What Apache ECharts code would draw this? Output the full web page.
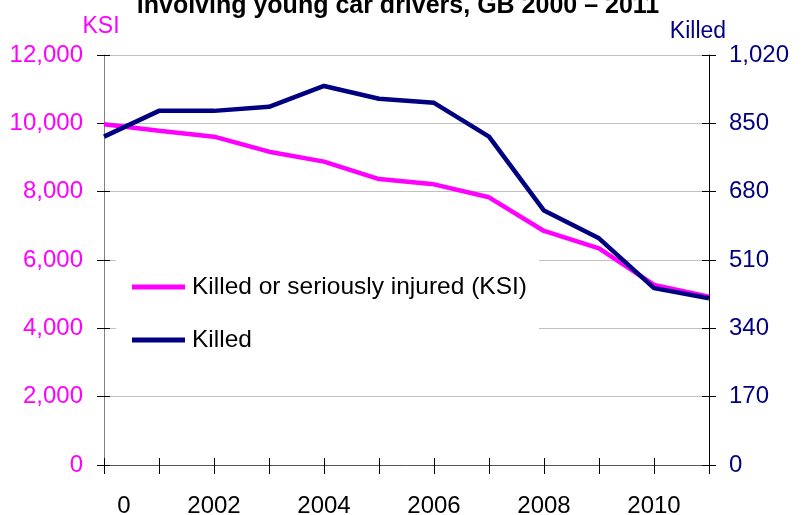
<!DOCTYPE html>
<html>
<head>
<meta charset="utf-8">
<script src="https://cdn.jsdelivr.net/npm/echarts@6/dist/echarts.min.js"></script>
<style>
    html, body { margin: 0; padding: 0; background: #fff; }
    #main { width: 803px; height: 515px; }
</style>
</head>
<body>
<div id="main"></div>
<script>
// data
var years = ['2000','2001','2002','2003','2004','2005','2006','2007','2008','2009','2010','2011'];
var ksi = [9970, 9785, 9610, 9170, 8880, 8370, 8215, 7835, 6850, 6340, 5270, 4925];
var killed = [817, 881, 881, 891, 943, 911, 901, 817, 633, 564, 440, 415];
var ksiTicks = [0, 2000, 4000, 6000, 8000, 10000, 12000];
var killedTicks = [0, 170, 340, 510, 680, 850, 1020];

var FONT = '"Liberation Sans", Arial, sans-serif';
var PINK = '#ff00ff';
var NAVY = '#000080';

function fmt(v) {
    return String(v).replace(/\B(?=(\d{3})+(?!\d))/g, ',');
}

var myChart = echarts.init(document.getElementById('main'));
option = {
    animation: false,
    backgroundColor: '#fff',
    title: {
        text: 'involving young car drivers, GB 2000 \u2013 2011',
        left: 393,
        textAlign: 'center',
        top: -11,
        textStyle: { fontFamily: FONT, fontSize: 25, fontWeight: 'bold', color: '#000' }
    },
    legend: {
        orient: 'vertical',
        left: 116,
        top: 260,
        padding: [14, 12, 8, 16],
        backgroundColor: '#fff',
        icon: 'rect',
        itemWidth: 53,
        itemHeight: 5,
        itemGap: 27,
        textStyle: { fontFamily: FONT, fontSize: 24.5, color: '#000', lineHeight: 26, padding: [0, 0, 0, 2] },
        data: ['Killed or seriously injured (KSI)', 'Killed']
    },
    grid: { left: 104, right: 94, top: 55, bottom: 50, outerBoundsMode: 'none', containLabel: false },
    xAxis: [
        {
            type: 'category',
            boundaryGap: false,
            data: years,
            axisLine: { lineStyle: { color: '#555', width: 1 } },
            axisTick: { show: true, interval: 0, length: 9, lineStyle: { color: '#000' } },
            axisLabel: {
                interval: 1,
                margin: 29,
                fontFamily: FONT,
                fontSize: 24,
                color: '#000',
                formatter: function (v, i) {
                    // only the last digit of the first label shows in the reference
                    return i === 0 ? '{a|0}' : v;
                },
                rich: { a: { fontFamily: FONT, fontSize: 24, color: '#000', padding: [0, 0, 0, 40] } }
            },
            splitLine: { show: false }
        },
        {
            // inner half of the crossing ticks
            type: 'category',
            boundaryGap: false,
            position: 'bottom',
            data: years,
            axisLine: { show: false },
            axisTick: { show: true, inside: true, interval: 0, length: 7, lineStyle: { color: '#000' } },
            axisLabel: { show: false },
            splitLine: { show: false }
        }
    ],
    yAxis: [
        {
            type: 'value',
            position: 'left',
            min: ksiTicks[0],
            max: ksiTicks[ksiTicks.length - 1],
            interval: 2000,
            name: 'KSI',
            nameLocation: 'end',
            nameGap: 17,
            nameTextStyle: { fontFamily: FONT, fontSize: 23, color: PINK, padding: [0, 6, 0, 0] },
            axisLine: { show: true, lineStyle: { color: '#808080' } },
            axisTick: { show: true, length: 7, lineStyle: { color: '#000' } },
            axisLabel: { margin: 21, fontFamily: FONT, fontSize: 24, color: PINK, formatter: fmt },
            splitLine: { show: true, lineStyle: { color: '#c0c0c0', width: 1 } }
        },
        {
            type: 'value',
            position: 'right',
            min: killedTicks[0],
            max: killedTicks[killedTicks.length - 1],
            interval: 170,
            name: 'Killed',
            nameLocation: 'end',
            nameGap: 12,
            nameTextStyle: { fontFamily: FONT, fontSize: 23, color: NAVY, padding: [0, 22, 0, 0] },
            axisLine: { show: true, lineStyle: { color: '#000' } },
            axisTick: { show: true, length: 7, lineStyle: { color: '#000' } },
            axisLabel: { margin: 20, fontFamily: FONT, fontSize: 24, color: NAVY, formatter: fmt },
            splitLine: { show: false }
        },
        {
            type: 'value',
            position: 'left',
            min: 0, max: 12000, interval: 2000,
            axisLine: { show: false },
            axisTick: { show: true, inside: true, length: 6, lineStyle: { color: '#000' } },
            axisLabel: { show: false },
            splitLine: { show: false }
        },
        {
            type: 'value',
            position: 'right',
            min: 0, max: 1020, interval: 170,
            axisLine: { show: false },
            axisTick: { show: true, inside: true, length: 7, lineStyle: { color: '#000' } },
            axisLabel: { show: false },
            splitLine: { show: false }
        }
    ],
    series: [
        {
            name: 'Killed or seriously injured (KSI)',
            type: 'line',
            yAxisIndex: 0,
            symbol: 'none',
            color: PINK,
            lineStyle: { color: PINK, width: 4.5 },
            data: ksi
        },
        {
            name: 'Killed',
            type: 'line',
            yAxisIndex: 1,
            symbol: 'none',
            color: NAVY,
            lineStyle: { color: NAVY, width: 4.5 },
            data: killed
        }
    ]
};

myChart.setOption(option);
</script>
</body>
</html>
